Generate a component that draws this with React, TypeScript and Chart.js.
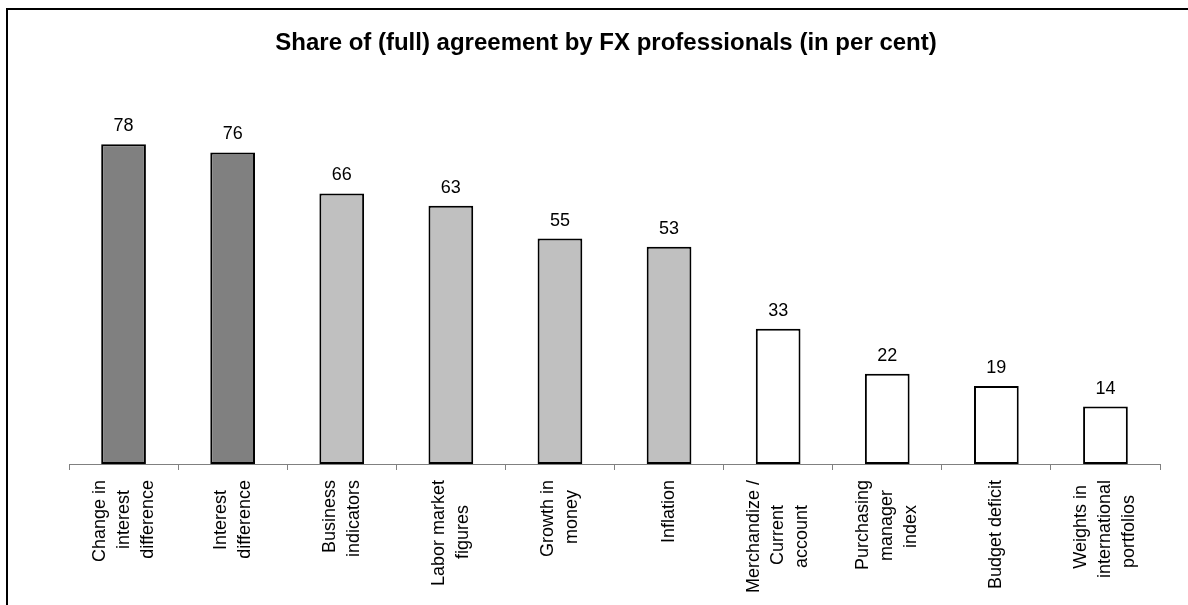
import React, { useEffect, useRef } from "react";
import { Chart, registerables } from "chart.js";

Chart.register(...registerables);

const TITLE = "Share of (full) agreement by FX professionals (in per cent)";

const categories: string[][] = [
  ["Change in", "interest", "difference"],
  ["Interest", "difference"],
  ["Business", "indicators"],
  ["Labor market", "figures"],
  ["Growth in", "money"],
  ["Inflation"],
  ["Merchandize /", "Current", "account"],
  ["Purchasing", "manager", "index"],
  ["Budget deficit"],
  ["Weights in", "international", "portfolios"],
];

const values: number[] = [78, 76, 66, 63, 55, 53, 33, 22, 19, 14];

// shade group of each bar (1 = dark, 2 = light, 3 = white)
const groups: number[] = [1, 1, 2, 2, 2, 2, 3, 3, 3, 3];

const FONT = "'Liberation Sans', Arial, Helvetica, sans-serif";
const GROUP_FILL: Record<number, string> = { 1: "#808080", 2: "#C0C0C0", 3: "#FFFFFF" };
const LABEL_SIZE = 18;
const LINE_STEP = 24;
const SLOT = LINE_STEP / 2;

function formatLabel(lines: string[], ctx: CanvasRenderingContext2D): string[] {
  ctx.font = `${LABEL_SIZE}px ${FONT}`;
  const widths = lines.map((l) => ctx.measureText(l).width);
  const maxW = Math.max(...widths);
  const sp = ctx.measureText(" ").width || 5;
  const padded = lines.map(
    (l, i) => l + " ".repeat(Math.max(0, Math.round((maxW - widths[i]) / 2 / sp)))
  );
  const out: string[] = [];
  for (let k = 0; k < 3 - lines.length; k++) out.push("");
  padded.forEach((l, i) => {
    if (i > 0) out.push("");
    out.push(l);
  });
  return out;
}

const valueLabels = {
  id: "valueLabels",
  afterDatasetsDraw(chart: any) {
    const ctx = chart.ctx;
    const meta = chart.getDatasetMeta(0);
    const data = chart.data.datasets[0].data;
    ctx.save();
    ctx.font = `18px ${FONT}`;
    ctx.fillStyle = "#000";
    ctx.textAlign = "center";
    ctx.textBaseline = "alphabetic";
    meta.data.forEach((bar: any, i: number) => {
      ctx.fillText(String(data[i]), bar.x, bar.y - 13);
    });
    ctx.restore();
  },
};

export default function App() {
  const ref = useRef<HTMLCanvasElement | null>(null);

  useEffect(() => {
    const canvas = ref.current;
    if (!canvas) return;
    const mctx = document.createElement("canvas").getContext("2d")!;
    const labels = categories.map((c) => formatLabel(c, mctx));

    const chart = new Chart(canvas, {
      type: "bar",
      data: {
        labels,
        datasets: [
          {
            data: values,
            backgroundColor: groups.map((g) => GROUP_FILL[g]),
            borderColor: "#000",
            borderWidth: 2,
            borderSkipped: false,
            barPercentage: 0.41,
            categoryPercentage: 1,
          },
        ],
      },
      options: {
        animation: false,
        responsive: false,
        devicePixelRatio: 1,
        layout: { padding: { top: 0, left: 52, right: 28, bottom: 0 } },
        plugins: {
          legend: { display: false },
          tooltip: { enabled: false },
          title: {
            display: true,
            text: TITLE,
            color: "#000",
            font: { family: FONT, size: 24, weight: "bold", lineHeight: 1.2 },
            padding: { top: 29, bottom: 37.2 },
          },
        },
        scales: {
          x: {
            type: "category",
            offset: true,
            grid: {
              offset: true,
              drawOnChartArea: false,
              drawTicks: true,
              tickLength: 6,
              tickColor: "#808080",
              tickWidth: 1,
            },
            border: { display: true, color: "#808080", width: 1 },
            ticks: {
              autoSkip: false,
              maxRotation: 90,
              minRotation: 90,
              padding: 10,
              labelOffset: -2 * SLOT,
              color: "#000",
              font: { family: FONT, size: LABEL_SIZE, lineHeight: `${SLOT}px` },
            },
            afterFit: (scale: any) => {
              scale.height = 141;
            },
          },
          y: {
            display: true,
            min: 0,
            max: 90,
            grid: { display: false, drawTicks: false },
            border: { display: false },
            ticks: { display: false },
            afterFit: (scale: any) => {
              scale.width = 17;
            },
          },
        },
      },
      plugins: [valueLabels],
    });
    return () => chart.destroy();
  }, []);

  return (
    <div style={{ position: "fixed", left: 0, top: 0, width: 1188, height: 605, background: "#fff" }}>
      <canvas ref={ref} width={1188} height={605} style={{ position: "absolute", left: 0, top: 0, width: 1188, height: 605 }} />
      <div
        style={{
          position: "fixed",
          left: 6,
          top: 8,
          right: -40,
          bottom: -40,
          border: "2px solid #000",
          pointerEvents: "none",
        }}
      />
    </div>
  );
}
